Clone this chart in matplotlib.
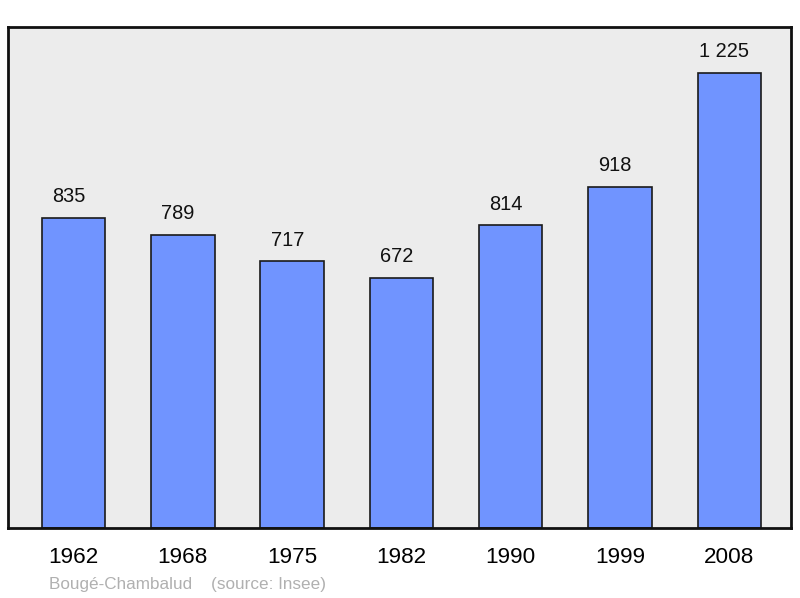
import matplotlib
matplotlib.use('Agg')
import matplotlib.pyplot as plt

years = ['1962', '1968', '1975', '1982', '1990', '1999', '2008']
population = [835, 789, 717, 672, 814, 918, 1225]
value_labels = ['835', '789', '717', '672', '814', '918', '1 225']

plt.rcParams['font.family'] = ['Liberation Sans', 'DejaVu Sans']

fig = plt.figure(figsize=(8, 5.98), dpi=100)
ax = fig.add_axes([8 / 800, 1 - 528 / 598, 783 / 800, 501 / 598])
ax.set_facecolor('#ececec')

x = range(len(years))
ax.bar(x, population, width=0.58, color='#7094ff', edgecolor='#1a1a1a', linewidth=1.2, zorder=2)

for i, (v, lab) in enumerate(zip(population, value_labels)):
    ax.annotate(lab, (i, v), xytext=(-3.5, 8.5), textcoords='offset points',
                ha='center', va='bottom', fontsize=14.4, color='#111111')

ax.set_xlim(-0.6, 6.565)
ax.set_ylim(0, 1225 * 1.1)
ax.set_yticks([])
ax.set_xticks(list(x))
ax.set_xticklabels(years, fontsize=16.2)
ax.tick_params(axis='x', length=0, pad=14)

for s in ax.spines.values():
    s.set_linewidth(2)
    s.set_color('#111111')

fig.text(49 / 800, 1 - 584 / 598, 'Bougé-Chambalud    (source: Insee)',
         fontsize=12.3, color='#b0b0b0', va='center', ha='left')

fig.savefig('out.png', dpi=100)
